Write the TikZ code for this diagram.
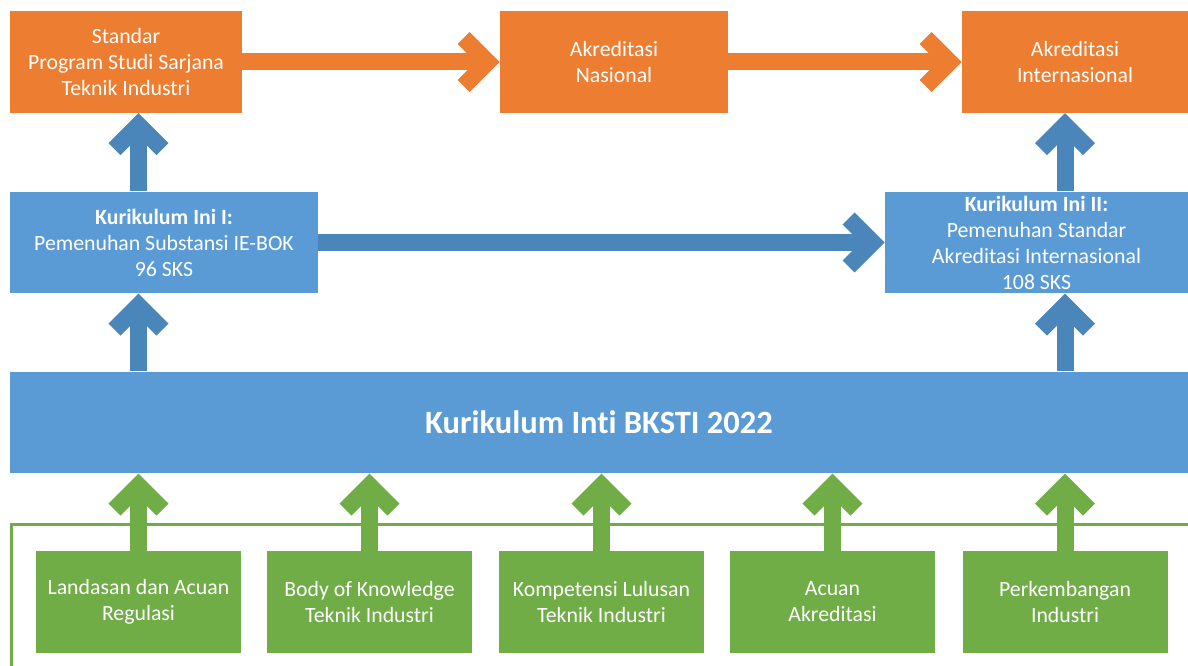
\documentclass[tikz,border=0pt]{standalone}
\usepackage{fontspec}
\setmainfont[Ligatures=NoCommon]{Carlito}
\usetikzlibrary{arrows.meta}

\definecolor{boxorange}{HTML}{ED7D31}
\definecolor{boxblue}{HTML}{5B9BD5}
\definecolor{arrowblue}{HTML}{4A86BA}
\definecolor{boxgreen}{HTML}{70AD47}

\begin{document}
\begin{tikzpicture}[
    box/.style = {rectangle,
        minimum height = 2.03cm,
        inner sep = 0pt,
        align = center,
        text = white,
        font = \fontsize{12.4pt}{14.8pt}\selectfont},
    obox/.style = {box, fill=boxorange},
    bbox/.style = {box, fill=boxblue},
    gbox/.style = {box, fill=boxgreen, minimum width=4.1cm},
    chev/.style = {line width=0.34cm,
        -{Straight Barb[length=0.48cm,width=0.96cm]}},
    oarrow/.style = {chev, draw=boxorange},
    barrow/.style = {chev, draw=arrowblue},
    garrow/.style = {chev, draw=boxgreen}]

\useasboundingbox (0,0) rectangle (23.76,13.32);

% Top row
\node[obox,minimum width=4.64cm] (std) at (2.52,12.08) {Standar\\Program Studi Sarjana\\Teknik Industri};
\node[obox,minimum width=4.56cm] (nas) at (12.28,12.08) {Akreditasi\\Nasional};
\node[obox,minimum width=4.52cm] (intl) at (21.5,12.08) {Akreditasi\\Internasional};

% Middle row
\node[bbox,minimum width=6.16cm] (ki1) at (3.28,8.47) {{\bfseries Kurikulum Ini I:}\\Pemenuhan Substansi IE-BOK\\96 SKS};
\node[bbox,minimum width=6.06cm] (ki2) at (20.73,8.47) {{\bfseries Kurikulum Ini II:}\\Pemenuhan Standar\\Akreditasi Internasional\\108 SKS};

% Core curriculum
\node[bbox,minimum width=23.56cm,font=\fontsize{18.5pt}{22pt}\bfseries] (inti) at (11.98,4.87) {Kurikulum Inti BKSTI 2022};

% Green frame
\draw[boxgreen,line width=0.06cm] (0.234,-0.2) |- (24,2.82);

% Inputs
\node[gbox] (land) at (2.77,1.28) {Landasan dan Acuan\\Regulasi};
\node[gbox] (bok) at (7.39,1.28) {Body of Knowledge\\Teknik Industri};
\node[gbox] (komp) at (12.03,1.28) {Kompetensi Lulusan\\Teknik Industri};
\node[gbox] (acu) at (16.65,1.28) {Acuan\\Akreditasi};
\node[gbox] (perk) at (21.3,1.28) {Perkembangan\\Industri};

% Arrows
\draw[oarrow] (std.east) -- (nas.west);
\draw[oarrow] (nas.east) -- (intl.west);
\draw[barrow] (ki1.east) -- (ki2.west);
\draw[barrow] (ki1.north -| land.north) -- (std.south -| land.north);
\draw[barrow] (inti.north -| land.north) -- (ki1.south -| land.north);
\draw[barrow] (inti.north -| perk.north) -- (ki2.south -| perk.north);
\draw[barrow] (ki2.north -| perk.north) -- (intl.south -| perk.north);
\draw[garrow] (land.north) -- (land.north |- inti.south);
\draw[garrow] (bok.north) -- (bok.north |- inti.south);
\draw[garrow] (komp.north) -- (komp.north |- inti.south);
\draw[garrow] (acu.north) -- (acu.north |- inti.south);
\draw[garrow] (perk.north) -- (perk.north |- inti.south);
\end{tikzpicture}
\end{document}
